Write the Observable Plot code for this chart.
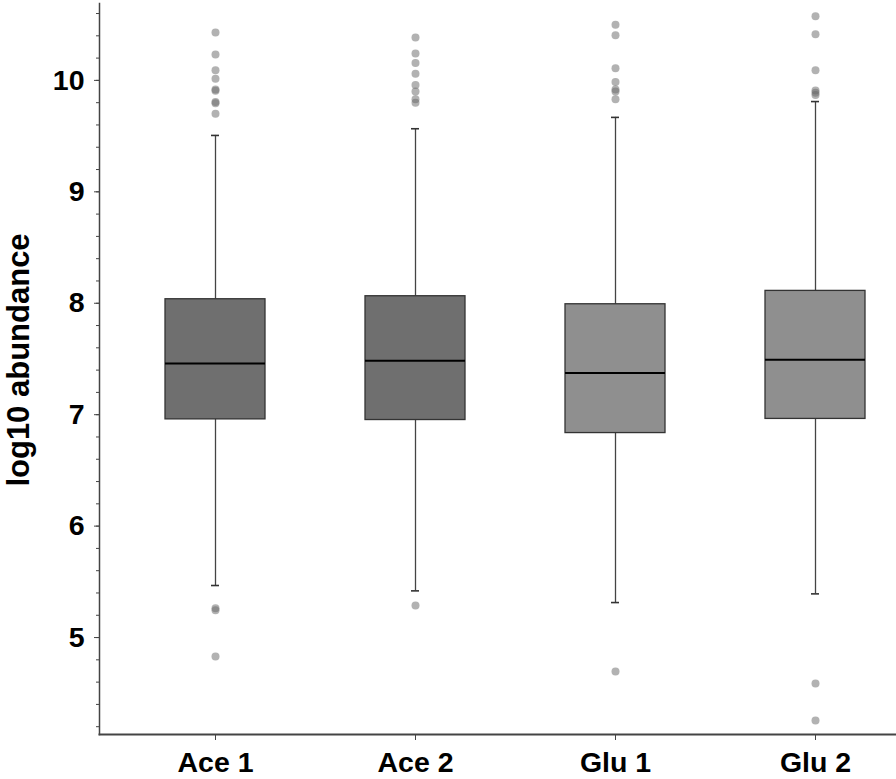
<!DOCTYPE html>
<html>
<head>
<meta charset="utf-8">
<script src="https://cdn.jsdelivr.net/npm/d3@7"></script>
<script src="https://cdn.jsdelivr.net/npm/@observablehq/plot@0.6"></script>
<style>
  html, body { margin: 0; padding: 0; background: #fff; }
  #chart svg { display: block; }
</style>
</head>
<body>
<div id="chart"></div>
<script>
const categories = ["Ace 1", "Ace 2", "Glu 1", "Glu 2"];
const q1 = [6.958, 6.952, 6.835, 6.962];
const median = [7.459, 7.483, 7.375, 7.492];
const q3 = [8.036, 8.063, 7.991, 8.111];
const whiskerLow = [5.467, 5.419, 5.314, 5.392];
const whiskerHigh = [9.506, 9.566, 9.668, 9.810];
const fills = ["#6f6f6f", "#6f6f6f", "#8f8f8f", "#8f8f8f"];
const outliersAce1 = [10.43, 10.233, 10.09, 10.015, 9.918, 9.908, 9.805, 9.795, 9.70, 5.262, 5.245, 4.83];
const outliersAce2 = [10.386, 10.242, 10.155, 10.06, 9.958, 9.901, 9.83, 9.80, 5.287];
const outliersGlu1 = [10.50, 10.404, 10.108, 9.985, 9.918, 9.900, 9.83, 4.695];
const outliersGlu2 = [10.575, 10.413, 10.09, 9.91, 9.89, 9.87, 4.587, 4.255];
const majorTicks = [5, 6, 7, 8, 9, 10];
const minorTicks = d3.range(21, 54).map(v => v / 5);
const yTitle = "log10 abundance";

const stats = categories.map((c, i) => ({
  cat: c, q1: q1[i], med: median[i], q3: q3[i],
  lo: whiskerLow[i], hi: whiskerHigh[i], fill: fills[i]
}));
const outlierSets = [outliersAce1, outliersAce2, outliersGlu1, outliersGlu2];
const outliers = outlierSets.flatMap((arr, i) => arr.map(v => ({cat: categories[i], v})));

const font = "'Liberation Sans', Arial, sans-serif";

const chart = Plot.plot({
  width: 896,
  height: 779,
  marginLeft: 99,
  marginRight: 0,
  marginTop: 3,
  marginBottom: 45,
  style: { fontFamily: font, background: "#fff", color: "#000" },
  x: { domain: categories, range: [115, 915], paddingInner: 0.5, paddingOuter: 0.25, label: null },
  y: { domain: [4.13, 10.69], label: null },
  marks: [
    Plot.ruleX(stats, { x: "cat", y1: "lo", y2: "q1", stroke: "#444", strokeWidth: 1.3 }),
    Plot.ruleX(stats, { x: "cat", y1: "q3", y2: "hi", stroke: "#444", strokeWidth: 1.3 }),
    Plot.tickY(stats, { x: "cat", y: "lo", stroke: "#333", strokeWidth: 1.6, insetLeft: 46, insetRight: 46 }),
    Plot.tickY(stats, { x: "cat", y: "hi", stroke: "#333", strokeWidth: 1.6, insetLeft: 46, insetRight: 46 }),
    Plot.barY(stats, { x: "cat", y1: "q1", y2: "q3", fill: "fill", stroke: "#333", strokeWidth: 1.3 }),
    Plot.tickY(stats, { x: "cat", y: "med", stroke: "#000", strokeWidth: 2 }),
    Plot.dot(outliers, { x: "cat", y: "v", r: 4, fill: "#666", fillOpacity: 0.5, stroke: "none" }),
    Plot.axisY({ ticks: minorTicks, tickSize: 3, tickFormat: () => "", stroke: "#444", label: null }),
    Plot.axisY({ ticks: majorTicks, tickSize: 5, tickPadding: 10, tickFormat: d3.format("d"),
      fontSize: 28.5, fontWeight: "bold", stroke: "#444", fill: "#000", label: null }),
    Plot.axisX({ tickSize: 6, tickPadding: 11, fontSize: 28.5, fontWeight: "bold", stroke: "#444", fill: "#000", label: null }),
    Plot.frame({ anchor: "left", stroke: "#444", strokeWidth: 1.5 }),
    Plot.frame({ anchor: "bottom", stroke: "#444", strokeWidth: 2 }),
    Plot.text([yTitle], { text: d => d, frameAnchor: "left", rotate: -90, dx: -80, dy: -9,
      fontSize: 31, fontWeight: "bold", fill: "#000", textAnchor: "middle", lineAnchor: "middle" })
  ]
});
document.getElementById("chart").appendChild(chart);
</script>
</body>
</html>
